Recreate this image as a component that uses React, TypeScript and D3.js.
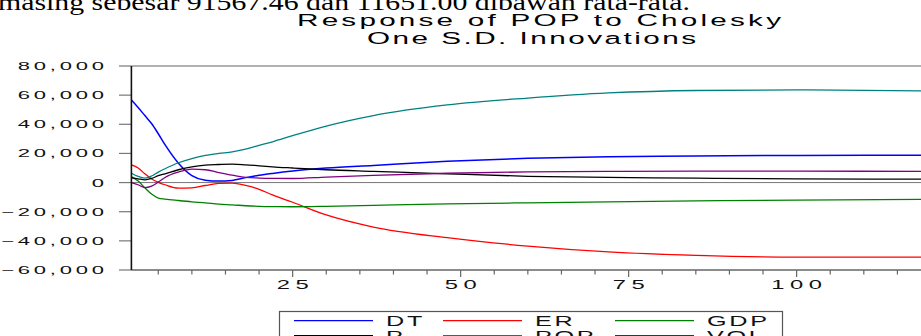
import React from 'react';
import * as d3 from 'd3';

const periods = [1, 2, 3, 4, 5, 6, 8, 10, 12, 14, 16, 18, 20, 22, 25, 30, 37, 48, 60, 72, 85, 100, 120];

const dt = [56700, 51500, 46000, 40500, 33500, 26000, 13300, 4800, 1600, 1000, 1500, 3400, 5000, 6300, 8000, 10000, 11800, 14600, 16700, 17800, 18300, 18600, 18700];
const er = [12100, 10000, 6000, 2500, 200, -1500, -3800, -3600, -2000, -600, -400, -2000, -4600, -8500, -13500, -22200, -30500, -37800, -43600, -47600, -50000, -51200, -51200];
const gdp = [4100, 1000, -3600, -7900, -10600, -11300, -12300, -13200, -13900, -14800, -15300, -15900, -16300, -16500, -16600, -16300, -15600, -14600, -13900, -13300, -12600, -12000, -11500];
const p = [3200, 2600, 1900, 2800, 4700, 6000, 8800, 10800, 12000, 12400, 12700, 12200, 11500, 10800, 10000, 8800, 7700, 6000, 4300, 3600, 3000, 2600, 2300];
const pop = [6400, 4200, 3100, 4500, 7200, 9500, 13600, 16500, 18600, 20000, 21100, 23000, 25500, 28000, 32200, 38800, 46000, 53300, 58000, 61500, 63200, 63600, 62900];
const vol = [0, -1500, -3400, -2400, 300, 3500, 7200, 9200, 8800, 6900, 5100, 3500, 3100, 2900, 2800, 3800, 5000, 6400, 7300, 7700, 7800, 7800, 7700];

const seriesNames = ['DT', 'ER', 'GDP', 'P', 'POP', 'VOL'];
const seriesValues = [dt, er, gdp, p, pop, vol];
const seriesColors = ['#0000ff', '#ff0000', '#008000', '#000000', '#008080', '#800080'];

const yTicks = [-60000, -40000, -20000, 0, 20000, 40000, 60000, 80000];
const xMajor = [25, 50, 75, 100];

const title1 = 'Response of POP to Cholesky';
const title2 = 'One S.D. Innovations';
const pageText = 'masing sebesar 91567.46 dan 11651.00 dibawah rata-rata.';

const SANS = '"Liberation Sans", Arial, sans-serif';

export default function App() {
  const width = 921;
  const height = 336;
  const left = 131.4;
  const top = 66;
  const bottom = 270;

  const x = d3.scaleLinear().domain([1, 120]).range([left, 931]);
  const y = d3.scaleLinear().domain([-60000, 80000]).range([bottom, top]);

  const line = d3.line<number>()
    .x((_, i) => x(periods[i]))
    .y(d => y(d))
    .curve(d3.curveMonotoneX);

  const minor = d3.range(5, 121, 5);
  const fmt = d3.format(',');

  // legend layout
  const legCols = [294, 443, 615];
  const legRows = [320.7, 335.7];

  return (
    <svg width={width} height={height} style={{ position: 'absolute', left: 0, top: 0, background: '#fff' }}>
      <text x={-2} y={9.5} fontFamily='"Liberation Serif", "Times New Roman", serif' fontSize={24}
        textLength={692} lengthAdjust="spacingAndGlyphs">{pageText}</text>

      <text transform="translate(297,25.5) scale(1.8,1)" fontFamily={SANS} fontSize={16.5}
        textLength={484 / 1.8} lengthAdjust="spacing">{title1}</text>
      <text transform="translate(367,43.5) scale(1.8,1)" fontFamily={SANS} fontSize={16.5}
        textLength={329 / 1.8} lengthAdjust="spacing">{title2}</text>

      {/* frame */}
      <line x1={left} x2={width} y1={top} y2={top} stroke="#666" strokeWidth={1.2} />
      <line x1={left} x2={width} y1={bottom} y2={bottom} stroke="#666" strokeWidth={1.4} />
      <line x1={left} x2={width} y1={y(0)} y2={y(0)} stroke="#777" strokeWidth={1} />

      {/* y axis */}
      {yTicks.map(t => (
        <g key={t}>
          <line x1={119} x2={left} y1={y(t)} y2={y(t)} stroke="#777" strokeWidth={1.2} />
          <text transform={`translate(104,${y(t) + 4}) scale(2,1)`} dx={1.9} textAnchor="end"
            fontFamily={SANS} fontSize={11} letterSpacing={1.9} fill="#111">{fmt(t)}</text>
        </g>
      ))}

      {/* x axis */}
      {minor.map(t => (
        <line key={t} x1={x(t)} x2={x(t)} y1={bottom} y2={bottom + (xMajor.includes(t) ? 7 : 4.5)}
          stroke="#666" strokeWidth={1.2} />
      ))}
      {xMajor.map(t => (
        <text key={t} transform={`translate(${x(t)},${bottom + 19}) scale(1.9,1)`} dx={1.45} textAnchor="middle"
          fontFamily={SANS} fontSize={12.5} letterSpacing={2.9} fill="#111">{t}</text>
      ))}

      {/* series */}
      {seriesValues.map((vals, i) => (
        <path key={seriesNames[i]} d={line(vals) || ''} fill="none" stroke={seriesColors[i]}
          strokeWidth={i === 0 ? 1.5 : 1.3} />
      ))}

      <line x1={left} x2={left} y1={top} y2={bottom} stroke="#111" strokeWidth={1.6} />

      {/* legend */}
      <rect x={279.5} y={311.5} width={503} height={40} fill="none" stroke="#555" strokeWidth={1.2} />
      {seriesNames.map((name, i) => {
        const cx = legCols[i % 3];
        const cy = legRows[Math.floor(i / 3)];
        return (
          <g key={name}>
            <line x1={cx} x2={cx + 79} y1={cy} y2={cy} stroke={seriesColors[i]} strokeWidth={1.2} />
            <text transform={`translate(${cx + 92},${cy + 5}) scale(1.8,1)`} fontFamily={SANS}
              fontSize={14} letterSpacing={1.5} fill="#111">{name}</text>
          </g>
        );
      })}
    </svg>
  );
}
